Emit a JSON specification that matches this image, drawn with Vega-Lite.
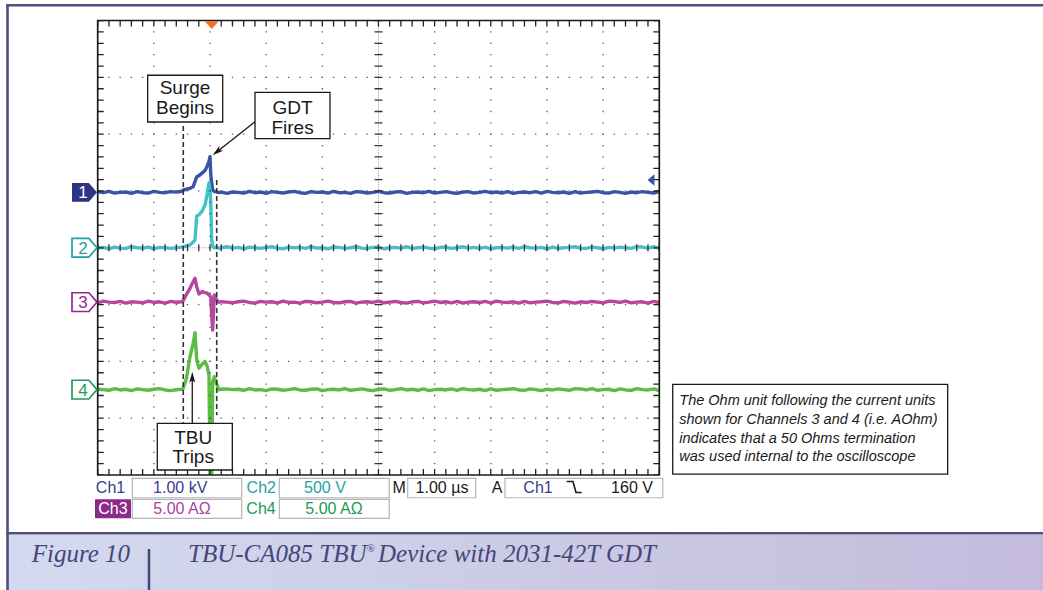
{
  "$schema": "https://vega.github.io/schema/vega-lite/v6.json",
  "width": 561.6,
  "height": 454.5,
  "autosize": {"type": "none"},
  "padding": {"left": 97.7, "top": 20.5, "right": 383.7, "bottom": 115},
  "background": "white",
  "config": {"view": {"stroke": null}},
  "datasets": {
    "tr": [
      {"t":-2.0,"a":0.987,"b":0,"c":-0.969,"d":-2.491},
      {"t":-1.9,"a":0.969,"b":0.006,"c":-0.939,"d":-2.497},
      {"t":-1.8,"a":0.993,"b":-0.018,"c":-0.957,"d":-2.509},
      {"t":-1.7,"a":0.963,"b":0.012,"c":-0.963,"d":-2.479},
      {"t":-1.6,"a":0.975,"b":-0.006,"c":-0.945,"d":-2.503},
      {"t":-1.5,"a":0.981,"b":-0.012,"c":-0.975,"d":-2.491},
      {"t":-1.4,"a":0.957,"b":0.018,"c":-0.951,"d":-2.515},
      {"t":-1.3,"a":0.987,"b":0,"c":-0.957,"d":-2.485},
      {"t":-1.2,"a":0.969,"b":-0.006,"c":-0.969,"d":-2.497},
      {"t":-1.1,"a":0.963,"b":0.012,"c":-0.939,"d":-2.509},
      {"t":-1.0,"a":0.993,"b":-0.018,"c":-0.963,"d":-2.491},
      {"t":-0.9,"a":0.975,"b":0.006,"c":-0.951,"d":-2.479},
      {"t":-0.8,"a":0.969,"b":0,"c":-0.975,"d":-2.503},
      {"t":-0.7,"a":0.987,"b":-0.012,"c":-0.945,"d":-2.515},
      {"t":-0.6,"a":0.98,"b":0,"c":-0.96,"d":-2.5},
      {"t":-0.5,"a":0.995,"b":0.01,"c":-0.95,"d":-2.49},
      {"t":-0.476,"a":1.017,"b":0.02,"c":-0.93,"d":-2.47},
      {"t":-0.42,"a":1.03,"b":0.03,"c":-0.82,"d":-2.3},
      {"t":-0.357,"a":1.046,"b":0.05,"c":-0.714,"d":-1.92},
      {"t":-0.3,"a":1.075,"b":0.1,"c":-0.6,"d":-1.68},
      {"t":-0.267,"a":1.163,"b":0.14,"c":-0.538,"d":-1.495},
      {"t":-0.237,"a":1.251,"b":0.56,"c":-0.685,"d":-1.976},
      {"t":-0.196,"a":1.27,"b":0.58,"c":-0.814,"d":-2.12},
      {"t":-0.148,"a":1.31,"b":0.635,"c":-0.773,"d":-2.06},
      {"t":-0.089,"a":1.36,"b":0.75,"c":-0.79,"d":-2.0},
      {"t":-0.05,"a":1.44,"b":0.95,"c":-0.8,"d":-2.09},
      {"t":-0.018,"a":1.52,"b":1.145,"c":-0.832,"d":-2.25},
      {"t":0.0,"a":1.603,"b":1.0,"c":-0.85,"d":-4.0},
      {"t":0.012,"a":1.31,"b":0.84,"c":-0.861,"d":-4.0},
      {"t":0.03,"a":1.134,"b":0.14,"c":-1.2,"d":-4.0},
      {"t":0.048,"a":1.017,"b":0.02,"c":-1.448,"d":-2.35},
      {"t":0.076,"a":0.99,"b":0,"c":-0.832,"d":-2.27},
      {"t":0.119,"a":0.985,"b":0.01,"c":-0.92,"d":-2.4},
      {"t":0.16,"a":0.97,"b":-0.01,"c":-0.96,"d":-2.5},
      {"t":0.2,"a":0.98,"b":0,"c":-0.95,"d":-2.49},
      {"t":0.3,"a":0.957,"b":0.018,"c":-0.957,"d":-2.485},
      {"t":0.4,"a":0.981,"b":-0.006,"c":-0.969,"d":-2.497},
      {"t":0.5,"a":0.975,"b":0.006,"c":-0.951,"d":-2.491},
      {"t":0.6,"a":0.963,"b":-0.018,"c":-0.939,"d":-2.509},
      {"t":0.7,"a":0.993,"b":0.012,"c":-0.963,"d":-2.479},
      {"t":0.8,"a":0.969,"b":0,"c":-0.975,"d":-2.503},
      {"t":0.9,"a":0.981,"b":-0.012,"c":-0.945,"d":-2.497},
      {"t":1.0,"a":0.957,"b":0.006,"c":-0.957,"d":-2.515},
      {"t":1.1,"a":0.987,"b":0.018,"c":-0.951,"d":-2.485},
      {"t":1.2,"a":0.975,"b":-0.006,"c":-0.969,"d":-2.491},
      {"t":1.3,"a":0.963,"b":-0.018,"c":-0.939,"d":-2.509},
      {"t":1.4,"a":0.981,"b":0.012,"c":-0.963,"d":-2.497},
      {"t":1.5,"a":0.993,"b":0,"c":-0.957,"d":-2.479},
      {"t":1.6,"a":0.969,"b":0.006,"c":-0.975,"d":-2.503},
      {"t":1.7,"a":0.957,"b":-0.012,"c":-0.945,"d":-2.509},
      {"t":1.8,"a":0.987,"b":0.018,"c":-0.951,"d":-2.491},
      {"t":1.9,"a":0.975,"b":-0.006,"c":-0.969,"d":-2.485},
      {"t":2.0,"a":0.981,"b":0,"c":-0.957,"d":-2.515},
      {"t":2.1,"a":0.963,"b":-0.018,"c":-0.939,"d":-2.497},
      {"t":2.2,"a":0.993,"b":0.012,"c":-0.963,"d":-2.491},
      {"t":2.3,"a":0.969,"b":0.006,"c":-0.969,"d":-2.503},
      {"t":2.4,"a":0.975,"b":-0.012,"c":-0.951,"d":-2.479},
      {"t":2.5,"a":0.957,"b":0,"c":-0.945,"d":-2.509},
      {"t":2.6,"a":0.987,"b":0.018,"c":-0.975,"d":-2.497},
      {"t":2.7,"a":0.981,"b":-0.006,"c":-0.957,"d":-2.485},
      {"t":2.8,"a":0.963,"b":-0.012,"c":-0.951,"d":-2.503},
      {"t":2.9,"a":0.975,"b":0.006,"c":-0.963,"d":-2.515},
      {"t":3.0,"a":0.993,"b":0.012,"c":-0.939,"d":-2.491},
      {"t":3.1,"a":0.969,"b":-0.018,"c":-0.969,"d":-2.485},
      {"t":3.2,"a":0.963,"b":0,"c":-0.957,"d":-2.509},
      {"t":3.3,"a":0.981,"b":0.006,"c":-0.945,"d":-2.497},
      {"t":3.4,"a":0.987,"b":-0.006,"c":-0.963,"d":-2.479},
      {"t":3.5,"a":0.957,"b":0.018,"c":-0.975,"d":-2.503},
      {"t":3.6,"a":0.975,"b":-0.012,"c":-0.951,"d":-2.491},
      {"t":3.7,"a":0.981,"b":0,"c":-0.945,"d":-2.509},
      {"t":3.8,"a":0.969,"b":0.012,"c":-0.969,"d":-2.485},
      {"t":3.9,"a":0.993,"b":-0.006,"c":-0.957,"d":-2.515},
      {"t":4.0,"a":0.963,"b":-0.018,"c":-0.939,"d":-2.497},
      {"t":4.1,"a":0.975,"b":0.006,"c":-0.963,"d":-2.491},
      {"t":4.2,"a":0.987,"b":0.012,"c":-0.951,"d":-2.503},
      {"t":4.3,"a":0.969,"b":-0.012,"c":-0.969,"d":-2.485},
      {"t":4.4,"a":0.957,"b":0,"c":-0.945,"d":-2.509},
      {"t":4.5,"a":0.981,"b":0.018,"c":-0.975,"d":-2.479},
      {"t":4.6,"a":0.987,"b":-0.006,"c":-0.957,"d":-2.497},
      {"t":4.7,"a":0.963,"b":0.006,"c":-0.951,"d":-2.503},
      {"t":4.8,"a":0.975,"b":-0.012,"c":-0.963,"d":-2.491},
      {"t":4.9,"a":0.993,"b":0.012,"c":-0.945,"d":-2.515},
      {"t":5.0,"a":0.969,"b":-0.018,"c":-0.969,"d":-2.485},
      {"t":5.1,"a":0.981,"b":0,"c":-0.939,"d":-2.509},
      {"t":5.2,"a":0.963,"b":0.006,"c":-0.957,"d":-2.497},
      {"t":5.3,"a":0.987,"b":-0.006,"c":-0.963,"d":-2.491},
      {"t":5.4,"a":0.957,"b":0.012,"c":-0.951,"d":-2.479},
      {"t":5.5,"a":0.975,"b":-0.012,"c":-0.975,"d":-2.503},
      {"t":5.6,"a":0.981,"b":0.018,"c":-0.945,"d":-2.509},
      {"t":5.7,"a":0.969,"b":0,"c":-0.969,"d":-2.485},
      {"t":5.8,"a":0.987,"b":-0.006,"c":-0.957,"d":-2.497},
      {"t":5.9,"a":0.963,"b":0.006,"c":-0.951,"d":-2.515},
      {"t":6.0,"a":0.993,"b":-0.018,"c":-0.939,"d":-2.491},
      {"t":6.1,"a":0.975,"b":0.012,"c":-0.963,"d":-2.503},
      {"t":6.2,"a":0.969,"b":-0.012,"c":-0.969,"d":-2.485},
      {"t":6.3,"a":0.981,"b":0,"c":-0.945,"d":-2.497},
      {"t":6.4,"a":0.957,"b":0.006,"c":-0.957,"d":-2.509},
      {"t":6.5,"a":0.987,"b":0.018,"c":-0.975,"d":-2.479},
      {"t":6.6,"a":0.963,"b":-0.006,"c":-0.951,"d":-2.485},
      {"t":6.7,"a":0.975,"b":-0.012,"c":-0.963,"d":-2.503},
      {"t":6.8,"a":0.981,"b":0.012,"c":-0.945,"d":-2.479},
      {"t":6.9,"a":0.993,"b":0,"c":-0.957,"d":-2.509},
      {"t":7.0,"a":0.969,"b":-0.018,"c":-0.969,"d":-2.497},
      {"t":7.1,"a":0.963,"b":0.006,"c":-0.939,"d":-2.491},
      {"t":7.2,"a":0.987,"b":-0.006,"c":-0.945,"d":-2.515},
      {"t":7.3,"a":0.975,"b":0.012,"c":-0.963,"d":-2.485},
      {"t":7.4,"a":0.957,"b":0,"c":-0.939,"d":-2.503},
      {"t":7.5,"a":0.981,"b":-0.012,"c":-0.969,"d":-2.509},
      {"t":7.6,"a":0.969,"b":0.018,"c":-0.957,"d":-2.479},
      {"t":7.7,"a":0.987,"b":0.012,"c":-0.951,"d":-2.497},
      {"t":7.8,"a":0.975,"b":-0.006,"c":-0.975,"d":-2.503},
      {"t":7.9,"a":0.963,"b":0.018,"c":-0.945,"d":-2.485},
      {"t":8.0,"a":0.993,"b":-0.012,"c":-0.963,"d":-2.515}
    ]
  },
  "encoding": {
    "x": {"field": "t", "type": "quantitative", "scale": {"domain": [-2, 8], "nice": false, "zero": false}, "axis": null},
    "y": {"field": "v", "type": "quantitative", "scale": {"domain": [-4, 4], "nice": false, "zero": false}, "axis": null}
  },
  "layer": [
    {
      "data": {"values": [{"t": -3.606, "t2": 15.0, "v": -5.05, "v2": -6.1}]},
      "mark": {"type": "rect", "strokeWidth": 0, "fill": {"gradient": "linear", "x1": 0, "y1": 0, "x2": 1, "y2": 0, "stops": [{"offset": 0, "color": "#d3daef"}, {"offset": 1, "color": "#c4bbdc"}]}},
      "encoding": {"x2": {"field": "t2"}, "y2": {"field": "v2"}}
    },
    {
      "data": {"values": [
        {"t": -3.63, "t2": 15.0, "v": 4.268, "v2": 4.268},
        {"t": -3.606, "t2": -3.606, "v": 4.29, "v2": -6.1},
        {"t": -3.63, "t2": 15.0, "v": -5.026, "v2": -5.026}
      ]},
      "mark": {"type": "rule", "color": "#4f4f80", "strokeWidth": 2.6},
      "encoding": {"x2": {"field": "t2"}, "y2": {"field": "v2"}}
    },
    {
      "data": {"name": "tr"},
      "transform": [{"fold": ["a", "b", "c", "d"], "as": ["ch", "v"]}],
      "mark": {"type": "line", "strokeWidth": 3.4, "strokeJoin": "round", "clip": true},
      "encoding": {
        "color": {"field": "ch", "type": "nominal", "scale": {"domain": ["a", "b", "c", "d"], "range": ["#3a52a8", "#3fc3cb", "#b5479f", "#5cbd44"]}, "legend": null}
      }
    },
    {
      "data": {"values": [
        {"t": -1, "v": -4, "v2": 4}, {"t": 0, "v": -4, "v2": 4}, {"t": 1, "v": -4, "v2": 4}, {"t": 2, "v": -4, "v2": 4},
        {"t": 4, "v": -4, "v2": 4}, {"t": 5, "v": -4, "v2": 4}, {"t": 6, "v": -4, "v2": 4}, {"t": 7, "v": -4, "v2": 4}
      ]},
      "mark": {"type": "rule", "color": "#555555", "strokeWidth": 1.3, "strokeDash": [1.3, 10.06], "strokeDashOffset": 0.65},
      "encoding": {"y2": {"field": "v2"}}
    },
    {
      "data": {"values": [
        {"t": -2, "t2": 8, "v": -3}, {"t": -2, "t2": 8, "v": -2}, {"t": -2, "t2": 8, "v": -1},
        {"t": -2, "t2": 8, "v": 1}, {"t": -2, "t2": 8, "v": 2}, {"t": -2, "t2": 8, "v": 3}
      ]},
      "mark": {"type": "rule", "color": "#555555", "strokeWidth": 1.3, "strokeDash": [1.3, 9.93], "strokeDashOffset": 0.65},
      "encoding": {"x2": {"field": "t2"}}
    },
    {
      "data": {"values": [{"t": 3, "v": -4, "v2": 4}]},
      "mark": {"type": "rule", "color": "#9a9a9a", "strokeWidth": 1, "strokeDash": [1, 1.3]},
      "encoding": {"y2": {"field": "v2"}}
    },
    {
      "data": {"values": [{"t": -2, "t2": 8, "v": 0}]},
      "mark": {"type": "rule", "color": "#9a9a9a", "strokeWidth": 1, "strokeDash": [1, 1.3]},
      "encoding": {"x2": {"field": "t2"}}
    },
    {
      "data": {"values": [{"t": 3, "v": -4, "v2": 4}]},
      "mark": {"type": "rule", "color": "#333333", "strokeWidth": 8, "strokeDash": [1.3, 10.06], "strokeDashOffset": 0.65},
      "encoding": {"y2": {"field": "v2"}}
    },
    {
      "data": {"values": [{"t": -2, "t2": 8, "v": 0}]},
      "mark": {"type": "rule", "color": "#333333", "strokeWidth": 7, "strokeDash": [1.3, 9.93], "strokeDashOffset": 0.65},
      "encoding": {"x2": {"field": "t2"}}
    },
    {
      "data": {"values": [{"t": -2, "t2": 8, "v": 4}]},
      "mark": {"type": "rule", "color": "#222222", "strokeWidth": 6, "yOffset": 3, "strokeDash": [1.3, 9.93], "strokeDashOffset": 0.65},
      "encoding": {"x2": {"field": "t2"}}
    },
    {
      "data": {"values": [{"t": -2, "t2": 8, "v": -4}]},
      "mark": {"type": "rule", "color": "#222222", "strokeWidth": 6, "yOffset": -3, "strokeDash": [1.3, 9.93], "strokeDashOffset": 0.65},
      "encoding": {"x2": {"field": "t2"}}
    },
    {
      "data": {"values": [{"t": -2, "v": -4, "v2": 4}]},
      "mark": {"type": "rule", "color": "#222222", "strokeWidth": 6, "xOffset": 3, "strokeDash": [1.3, 10.06], "strokeDashOffset": 0.65},
      "encoding": {"y2": {"field": "v2"}}
    },
    {
      "data": {"values": [{"t": 8, "v": -4, "v2": 4}]},
      "mark": {"type": "rule", "color": "#222222", "strokeWidth": 6, "xOffset": -3, "strokeDash": [1.3, 10.06], "strokeDashOffset": 0.65},
      "encoding": {"y2": {"field": "v2"}}
    },
    {
      "data": {"values": [{"t": -2, "t2": 8, "v": -4, "v2": 4}]},
      "mark": {"type": "rect", "filled": false, "stroke": "#1a1a1a", "strokeWidth": 1.7},
      "encoding": {"x2": {"field": "t2"}, "y2": {"field": "v2"}}
    },
    {
      "data": {"values": [{"t": -2.235, "v": 0.976}]},
      "mark": {"type": "point", "filled": true, "shape": "M-1,-0.75L0.35,-0.75L1,0L0.35,0.75L-1,0.75Z", "size": 625, "fill": "#2d3483", "opacity": 1, "strokeWidth": 0}
    },
    {
      "data": {"values": [{"t": -2.235, "v": 0, "ch": "2"}, {"t": -2.235, "v": -0.957, "ch": "3"}, {"t": -2.235, "v": -2.497, "ch": "4"}]},
      "mark": {"type": "point", "filled": false, "shape": "M-1,-0.75L0.35,-0.75L1,0L0.35,0.75L-1,0.75Z", "size": 625, "fill": "white", "fillOpacity": 1, "opacity": 1, "strokeWidth": 1.7},
      "encoding": {"stroke": {"field": "ch", "type": "nominal", "scale": {"domain": ["2", "3", "4"], "range": ["#1fa1a6", "#93278f", "#23995a"]}, "legend": null}}
    },
    {
      "data": {"values": [{"t": -2.262, "v": 0.976, "ch": "1"}]},
      "mark": {"type": "text", "font": "Liberation Sans", "fontSize": 17, "align": "center", "baseline": "middle", "color": "white", "dy": 1},
      "encoding": {"text": {"field": "ch"}}
    },
    {
      "data": {"values": [{"t": -2.262, "v": 0, "ch": "2"}, {"t": -2.262, "v": -0.957, "ch": "3"}, {"t": -2.262, "v": -2.497, "ch": "4"}]},
      "mark": {"type": "text", "font": "Liberation Sans", "fontSize": 17, "align": "center", "baseline": "middle", "dy": 1},
      "encoding": {"text": {"field": "ch"}, "fill": {"field": "ch", "type": "nominal", "scale": {"domain": ["2", "3", "4"], "range": ["#1fa1a6", "#93278f", "#23995a"]}, "legend": null}}
    },
    {
      "data": {"values": [{"t": 0.03, "v": 3.92}]},
      "mark": {"type": "point", "filled": true, "shape": "M-1,-0.55L1,-0.55L0,0.55Z", "size": 196, "color": "#f36f21", "opacity": 1}
    },
    {
      "data": {"values": [{"t": 7.852, "v": 1.193}]},
      "mark": {"type": "point", "filled": true, "shape": "M-0.6,0L0.6,-1L0.6,1Z", "size": 130, "color": "#3a52a8", "opacity": 1}
    },
    {
      "data": {"values": [{"t": -0.476, "v": 2.143, "v2": -3.1}, {"t": 0.119, "v": 1.193, "v2": -2.95}]},
      "mark": {"type": "rule", "color": "#333333", "strokeWidth": 1.6, "strokeDash": [5, 3]},
      "encoding": {"y2": {"field": "v2"}}
    },
    {
      "data": {"values": [
        {"t": -1.11, "t2": 0.226, "v": 3.036, "v2": 2.213},
        {"t": 0.801, "t2": 2.136, "v": 2.736, "v2": 1.92},
        {"t": -0.939, "t2": 0.397, "v": -3.09, "v2": -3.912}
      ]},
      "mark": {"type": "rect", "fill": "white", "stroke": "#1a1a1a", "strokeWidth": 1.3},
      "encoding": {"x2": {"field": "t2"}, "y2": {"field": "v2"}}
    },
    {
      "data": {"values": [
        {"t": -0.445, "v": 2.706, "s": "Surge"},
        {"t": -0.445, "v": 2.351, "s": "Begins"},
        {"t": 1.469, "v": 2.351, "s": "GDT"},
        {"t": 1.469, "v": 2.003, "s": "Fires"},
        {"t": -0.3, "v": -3.456, "s": "TBU"},
        {"t": -0.3, "v": -3.795, "s": "Trips"}
      ]},
      "mark": {"type": "text", "font": "Liberation Sans", "fontSize": 19, "align": "center", "baseline": "alphabetic", "color": "#1a1a1a"},
      "encoding": {"text": {"field": "s"}}
    },
    {
      "data": {"values": [
        {"t": 0.801, "t2": 0.125, "v": 2.218, "v2": 1.69},
        {"t": -0.316, "t2": -0.316, "v": -3.09, "v2": -2.3}
      ]},
      "mark": {"type": "rule", "color": "#1a1a1a", "strokeWidth": 1.3},
      "encoding": {"x2": {"field": "t2"}, "y2": {"field": "v2"}}
    },
    {
      "data": {"values": [{"t": 0.1225, "v": 1.687}]},
      "mark": {"type": "point", "filled": true, "shape": "M0,-1L0.55,1L0,0.55L-0.55,1Z", "size": 121, "angle": 231.6, "color": "#1a1a1a", "opacity": 1}
    },
    {
      "data": {"values": [{"t": -0.316, "v": -2.279}]},
      "mark": {"type": "point", "filled": true, "shape": "M0,-1L0.55,1L0,0.55L-0.55,1Z", "size": 121, "angle": 0, "color": "#1a1a1a", "opacity": 1}
    },
    {
      "data": {"values": [
        {"t": -1.384, "t2": 0.564, "v": -4.058, "v2": -4.4},
        {"t": 1.234, "t2": 3.192, "v": -4.058, "v2": -4.4},
        {"t": 3.52, "t2": 4.731, "v": -4.058, "v2": -4.4},
        {"t": 5.252, "t2": 8.061, "v": -4.058, "v2": -4.4},
        {"t": -1.384, "t2": 0.564, "v": -4.428, "v2": -4.762},
        {"t": 1.234, "t2": 3.192, "v": -4.428, "v2": -4.762}
      ]},
      "mark": {"type": "rect", "fill": "white", "stroke": "#b5b5b5", "strokeWidth": 1.2},
      "encoding": {"x2": {"field": "t2"}, "y2": {"field": "v2"}}
    },
    {
      "data": {"values": [{"t": -2.048, "t2": -1.407, "v": -4.428, "v2": -4.762}]},
      "mark": {"type": "rect", "fill": "#8c2a8c", "strokeWidth": 0},
      "encoding": {"x2": {"field": "t2"}, "y2": {"field": "v2"}}
    },
    {
      "data": {"values": [{"t": -1.772, "v": -4.312, "s": "Ch1"}, {"t": -0.531, "v": -4.312, "s": "1.00 kV"}, {"t": 5.84, "v": -4.312, "s": "Ch1"}]},
      "mark": {"type": "text", "font": "Liberation Sans", "fontSize": 16, "align": "center", "baseline": "alphabetic", "color": "#3b3b8f"},
      "encoding": {"text": {"field": "s"}}
    },
    {
      "data": {"values": [{"t": 0.913, "v": -4.312, "s": "Ch2"}, {"t": 2.047, "v": -4.312, "s": "500 V"}]},
      "mark": {"type": "text", "font": "Liberation Sans", "fontSize": 16, "align": "center", "baseline": "alphabetic", "color": "#27a1a5"},
      "encoding": {"text": {"field": "s"}}
    },
    {
      "data": {"values": [{"t": -1.728, "v": -4.692, "s": "Ch3"}]},
      "mark": {"type": "text", "font": "Liberation Sans", "fontSize": 16, "align": "center", "baseline": "alphabetic", "color": "white"},
      "encoding": {"text": {"field": "s"}}
    },
    {
      "data": {"values": [{"t": -0.499, "v": -4.692, "s": "5.00 AΩ"}]},
      "mark": {"type": "text", "font": "Liberation Sans", "fontSize": 16, "align": "center", "baseline": "alphabetic", "color": "#a7449f"},
      "encoding": {"text": {"field": "s"}}
    },
    {
      "data": {"values": [{"t": 0.908, "v": -4.692, "s": "Ch4"}, {"t": 2.208, "v": -4.692, "s": "5.00 AΩ"}]},
      "mark": {"type": "text", "font": "Liberation Sans", "fontSize": 16, "align": "center", "baseline": "alphabetic", "color": "#1f9a50"},
      "encoding": {"text": {"field": "s"}}
    },
    {
      "data": {"values": [{"t": 3.37, "v": -4.312, "s": "M"}, {"t": 4.131, "v": -4.312, "s": "1.00 µs"}, {"t": 5.11, "v": -4.312, "s": "A"}, {"t": 7.514, "v": -4.312, "s": "160 V"}]},
      "mark": {"type": "text", "font": "Liberation Sans", "fontSize": 16, "align": "center", "baseline": "alphabetic", "color": "#1a1a1a"},
      "encoding": {"text": {"field": "s"}}
    },
    {
      "data": {"values": [{"t": 6.351, "v": -4.115}, {"t": 6.463, "v": -4.115}, {"t": 6.517, "v": -4.308}, {"t": 6.618, "v": -4.308}]},
      "mark": {"type": "line", "color": "#1a1a1a", "strokeWidth": 1.6}
    },
    {
      "data": {"values": [{"t": 8.239, "t2": 13.135, "v": -2.404, "v2": -3.983}]},
      "mark": {"type": "rect", "fill": "white", "stroke": "#1a1a1a", "strokeWidth": 1.3},
      "encoding": {"x2": {"field": "t2"}, "y2": {"field": "v2"}}
    },
    {
      "data": {"values": [
        {"t": 8.356, "v": -2.768, "s": "The Ohm unit following the current units"},
        {"t": 8.356, "v": -3.103, "s": "shown for Channels 3 and 4 (i.e. AOhm)"},
        {"t": 8.356, "v": -3.432, "s": "indicates that a 50 Ohms termination"},
        {"t": 8.356, "v": -3.754, "s": "was used internal to the oscilloscope"}
      ]},
      "mark": {"type": "text", "font": "Liberation Sans", "fontStyle": "italic", "fontSize": 14.5, "align": "left", "baseline": "alphabetic", "color": "#1a1a1a"},
      "encoding": {"text": {"field": "s"}}
    },
    {
      "data": {"values": [{"t": -1.087, "v": -5.303, "v2": -6.1}]},
      "mark": {"type": "rule", "color": "#45457a", "strokeWidth": 2.5},
      "encoding": {"y2": {"field": "v2"}}
    },
    {
      "data": {"values": [
        {"t": -3.175, "v": -5.526, "s": "Figure 10"},
        {"t": -0.392, "v": -5.526, "s": "TBU-CA085 TBU"},
        {"t": 2.991, "v": -5.526, "s": "Device with 2031-42T GDT"}
      ]},
      "mark": {"type": "text", "font": "Liberation Serif", "fontStyle": "italic", "fontSize": 25, "align": "left", "baseline": "alphabetic", "color": "#45457a"},
      "encoding": {"text": {"field": "s"}}
    },
    {
      "data": {"values": [{"t": 2.79, "v": -5.36, "s": "®"}]},
      "mark": {"type": "text", "font": "Liberation Serif", "fontSize": 11, "align": "left", "baseline": "alphabetic", "color": "#45457a"},
      "encoding": {"text": {"field": "s"}}
    }
  ]
}
